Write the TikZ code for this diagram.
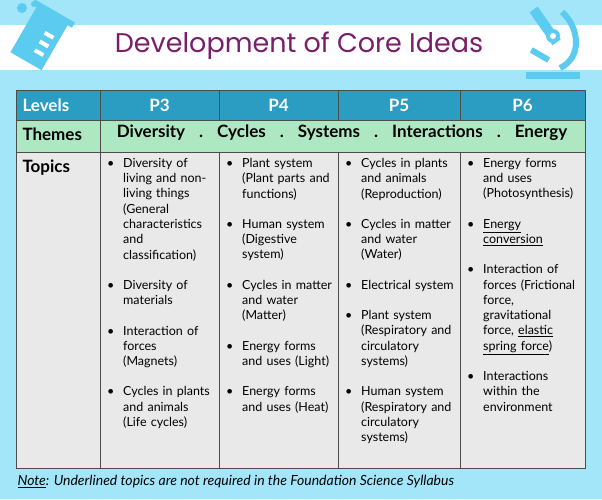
\documentclass[tikz,border=0pt]{standalone}
\usepackage{fontspec}
\setmainfont{Lato}
\newfontfamily\titlefont{Poppins}
\definecolor{bgblue}{HTML}{A3E6FA}
\definecolor{iconblue}{HTML}{5CCBF0}
\definecolor{hdr}{HTML}{2B9CC2}
\definecolor{theme}{HTML}{AEE8C2}
\definecolor{topic}{HTML}{E9E9E9}
\definecolor{ttl}{HTML}{7A1E6C}
\newcommand{\bitem}[1]{\noindent\hangindent=16pt\hangafter=1\makebox[16pt][l]{\textbullet}#1\par\vspace{15pt}}
\tikzset{
  grid/.style={draw=black!70, line width=0.8pt},
  hdrtxt/.style={text=white, font=\fontsize{17}{19}\selectfont\bfseries},
  thtxt/.style={font=\fontsize{17}{19}\selectfont\bfseries},
  col/.style={anchor=north west, text width=#1, inner sep=0pt, align=left, font=\fontsize{12.5}{15.3}\selectfont},
}
\begin{document}
\begin{tikzpicture}[x=1pt,y=-1pt]
\useasboundingbox (0,0) rectangle (602,499);
\fill[bgblue] (0,0) rectangle (602,499);
\fill[white] (0,25) rectangle (602,70);
% beaker icon
\begin{scope}[shift={(40,37)},rotate=-30]
\fill[iconblue] (-18,-25) -- (18,-25) -- (18,28) -- (-18,28) -- cycle;
\fill[iconblue] (-23,-30) rectangle (23,-24);
\foreach \yy in {-8,2,12} \fill[white] (2,\yy) rectangle (12,\yy+4);
\end{scope}
\fill[iconblue] (22,8) circle (5);
\fill[iconblue] (34,4) circle (3);
% microscope icon
\begin{scope}[iconblue]
\fill (526,72) rectangle (580,79);
\draw[line width=6pt] (562,12) .. controls (580,28) and (582,58) .. (560,68);
\fill[rotate around={35:(548,30)}] (543,5) rectangle (553,45);
\fill[rotate around={-30:(540,55)}] (530,52) rectangle (550,58);
\fill (553,36) circle (7);
\fill[white] (553,36) circle (3);
\end{scope}
\node[text=ttl, font=\titlefont\fontsize{27}{30}\selectfont] (title) at (299,46) {Development of Core Ideas};
% table
\fill[hdr] (16,90) rectangle (585,120);
\fill[theme] (16,120) rectangle (585,152);
\fill[topic] (16,152) rectangle (585,468);
\draw[grid] (16,90) rectangle (585,468);
\draw[grid] (16,120) -- (585,120) (16,152) -- (585,152);
\draw[grid] (100,90) -- (100,468);
\foreach \xx in {219,338,460} {\draw[grid] (\xx,90) -- (\xx,120); \draw[grid] (\xx,152) -- (\xx,468);}
\node[hdrtxt, anchor=west] (lv) at (19,105) {Levels};
\node[hdrtxt] (p3) at (159.5,105) {P3};
\node[hdrtxt] (p4) at (278.5,105) {P4};
\node[hdrtxt] (p5) at (399,105) {P5};
\node[hdrtxt] (p6) at (522.5,105) {P6};
\node[thtxt, anchor=west] (th) at (19,134) {Themes};
\node[thtxt] (ths) at (342,133) {Diversity\hspace{14pt}.\hspace{14pt}Cycles\hspace{14pt}.\hspace{14pt}Systems\hspace{14pt}.\hspace{14pt}Interactions\hspace{14pt}.\hspace{14pt}Energy};
\node[thtxt, anchor=west] (tp) at (19,168) {Topics};
\node[col=110pt] (c3) at (107,158) {%
\bitem{Diversity of\newline living and non-\newline living things\newline (General\newline characteristics\newline and\newline classification)}
\bitem{Diversity of\newline materials}
\bitem{Interaction of\newline forces\newline (Magnets)}
\bitem{Cycles in plants\newline and animals\newline (Life cycles)}};
\node[col=115pt] (c4) at (226,158) {%
\bitem{Plant system\newline (Plant parts and\newline functions)}
\bitem{Human system\newline (Digestive\newline system)}
\bitem{Cycles in matter\newline and water\newline (Matter)}
\bitem{Energy forms\newline and uses (Light)}
\bitem{Energy forms\newline and uses (Heat)}};
\node[col=118pt] (c5) at (345,158) {%
\bitem{Cycles in plants\newline and animals\newline (Reproduction)}
\bitem{Cycles in matter\newline and water\newline (Water)}
\bitem{Electrical system}
\bitem{Plant system\newline (Respiratory and\newline circulatory\newline systems)}
\bitem{Human system\newline (Respiratory and\newline circulatory\newline systems)}};
\node[col=118pt] (c6) at (467,158) {%
\bitem{Energy forms\newline and uses\newline (Photosynthesis)}
\bitem{\underline{Energy}\newline \underline{conversion}}
\bitem{Interaction of\newline forces (Frictional\newline force,\newline gravitational\newline force, \underline{elastic}\newline \underline{spring force})}
\bitem{Interactions\newline within the\newline environment}};
\node[anchor=west, font=\itshape\fontsize{14}{16}\selectfont] (note) at (14,482) {\underline{Note}: Underlined topics are not required in the Foundation Science Syllabus};
\end{tikzpicture}
\end{document}
